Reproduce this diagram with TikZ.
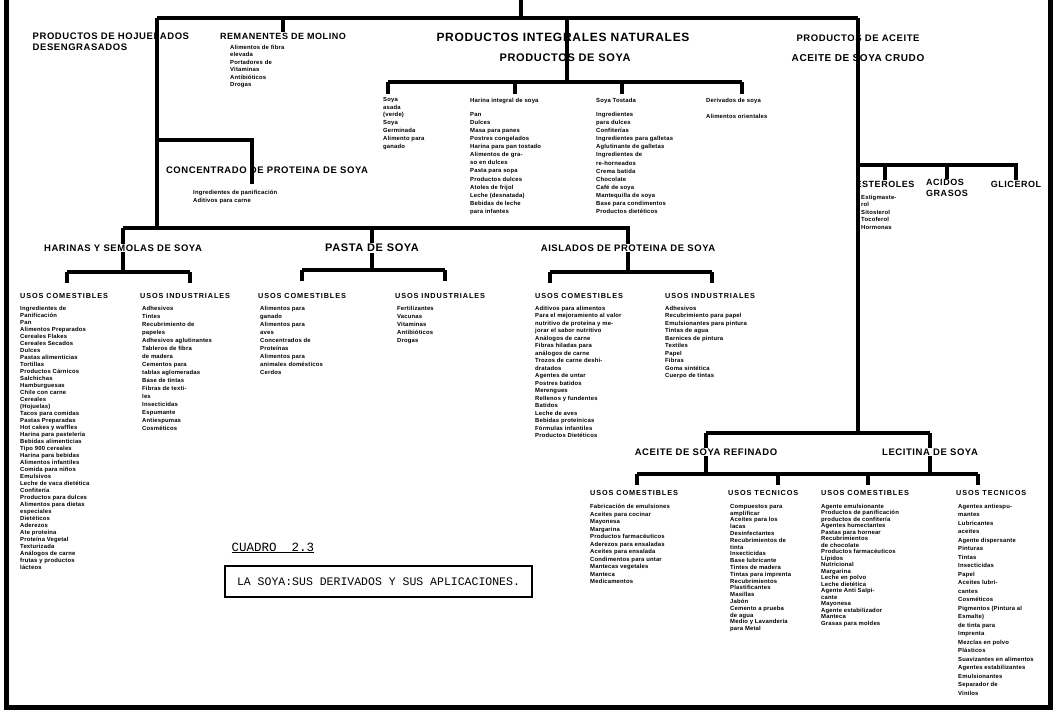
\documentclass[tikz,border=0pt]{standalone}
\usepackage{fontspec}
\setmainfont{Liberation Sans}
\setmonofont{Liberation Mono}
\newfontfamily\rotfont[LetterSpace=6]{Liberation Sans}
\newfontfamily\usosfont[LetterSpace=12]{Liberation Sans}
\newfontfamily\listfont[LetterSpace=3]{Liberation Sans}

\begin{document}
\begin{tikzpicture}[x=1pt, y=-1pt,
  linea/.style={line width=4.4pt},
  titulo/.style={font=\rotfont\fontsize{#1}{11}\selectfont\bfseries, inner sep=0.5pt},
  titulo/.default=9.5,
  usos/.style={font=\usosfont\fontsize{7.3}{8}\selectfont\bfseries, anchor=west, inner sep=0pt},
  lista/.style={font=\listfont\fontsize{5.9}{#1}\selectfont\bfseries, align=left, anchor=north west, inner sep=0pt},
  lista/.default=7.5]
\useasboundingbox (0,0) rectangle (1056,717);

\draw[line width=5pt] (6,0) -- (6,707) -- (1050,707) -- (1050,0);

% nivel superior
\node[titulo, align=left, anchor=north west] (hoj) at (32,32) {PRODUCTOS DE HOJUELADOS\\DESENGRASADOS};
\node[titulo=9] (rem) at (283,36) {REMANENTES DE MOLINO};
\node[lista] (remlista) at (230,45) {Alimentos de fibra\\elevada\\Portadores de\\Vitaminas\\Antibióticos\\Drogas};
\node[titulo=12] (integ) at (563,37) {PRODUCTOS INTEGRALES NATURALES};
\node[titulo=11] (psoya) at (565,58) {PRODUCTOS DE SOYA};
\node[titulo] (paceite) at (858,38) {PRODUCTOS DE ACEITE};
\node[titulo=10] (crudo) at (858,58) {ACEITE DE SOYA CRUDO};

% productos de soya
\node[lista=7.8] (asada) at (383,97) {Soya\\asada\\(verde)\\Soya\\Germinada\\Alimento para\\ganado};
\node[lista] (harint) at (470,98) {Harina integral de soya};
\node[lista=8.1] (harlista) at (470,112) {Pan\\Dulces\\Masa para panes\\Postres congelados\\Harina para pan tostado\\Alimentos de gra-\\so en dulces\\Pasta para sopa\\Productos dulces\\Atoles de frijol\\Leche (desnatada)\\Bebidas de leche\\para infantes};
\node[lista] (tost) at (596,98) {Soya Tostada};
\node[lista=8.1] (tostlista) at (596,112) {Ingredientes\\para dulces\\Confiterías\\Ingredientes para galletas\\Aglutinante de galletas\\Ingredientes de\\re-horneados\\Crema batida\\Chocolate\\Café de soya\\Mantequilla de soya\\Base para condimentos\\Productos dietéticos};
\node[lista] (deriv) at (706,98) {Derivados de soya};
\node[lista] (derlista) at (706,114) {Alimentos orientales};

% concentrado
\node[titulo] (conc) at (267,170) {CONCENTRADO DE PROTEINA DE SOYA};
\node[lista] (conclista) at (193,190) {Ingredientes de panificación\\Aditivos para carne};

% aceite crudo
\node[titulo=9] (est) at (885,184) {ESTEROLES};
\node[titulo=9, align=left] (acid) at (947,188) {ACIDOS\\GRASOS};
\node[titulo=9] (glic) at (1016,184) {GLICEROL};
\node[lista] (estlista) at (861,195) {Estigmaste-\\rol\\Sitosterol\\Tocoferol\\Hormonas};

% harinas, pasta, aislados
\node[titulo] (harinas) at (123,248) {HARINAS Y SEMOLAS DE SOYA};
\node[titulo=11] (pasta) at (372,248) {PASTA DE SOYA};
\node[titulo] (aisl) at (628,248) {AISLADOS DE PROTEINA DE SOYA};
\node[usos] (uc1) at (20,296) {USOS COMESTIBLES};
\node[usos] (ui1) at (140,296) {USOS INDUSTRIALES};
\node[usos] (uc2) at (258,296) {USOS COMESTIBLES};
\node[usos] (ui2) at (395,296) {USOS INDUSTRIALES};
\node[usos] (uc3) at (535,296) {USOS COMESTIBLES};
\node[usos] (ui3) at (665,296) {USOS INDUSTRIALES};
\node[lista=7] (lc1) at (20,306) {Ingredientes de\\Panificación\\Pan\\Alimentos Preparados\\Cereales Flakes\\Cereales Secados\\Dulces\\Pastas alimenticias\\Tortillas\\Productos Cárnicos\\Salchichas\\Hamburguesas\\Chile con carne\\Cereales\\(Hojuelas)\\Tacos para comidas\\Pastas Preparadas\\Hot cakes y waffles\\Harina para pastelería\\Bebidas alimenticias\\Tipo 900 cereales\\Harina para bebidas\\Alimentos infantiles\\Comida para niños\\Emulsivos\\Leche de vaca dietética\\Confitería\\Productos para dulces\\Alimentos para dietas\\especiales\\Dietéticos\\Aderezos\\Ate proteína\\Proteína Vegetal\\Texturizada\\Análogos de carne\\frutas y productos\\lácteos};
\node[lista=8] (li1) at (142,306) {Adhesivos\\Tintes\\Recubrimiento de\\papeles\\Adhesivos aglutinantes\\Tableros de fibra\\de madera\\Cementos para\\tablas aglomeradas\\Base de tintas\\Fibras de texti-\\les\\Insecticidas\\Espumante\\Antiespumas\\Cosméticos};
\node[lista=8] (lc2) at (260,306) {Alimentos para\\ganado\\Alimentos para\\aves\\Concentrados de\\Proteínas\\Alimentos para\\animales domésticos\\Cerdos};
\node[lista=8] (li2) at (397,306) {Fertilizantes\\Vacunas\\Vitaminas\\Antibióticos\\Drogas};
\node[lista] (lc3) at (535,306) {Aditivos para alimentos\\Para el mejoramiento al valor\\nutritivo de proteína y me-\\jorar el sabor nutritivo\\Análogos de carne\\Fibras hiladas para\\análogos de carne\\Trozos de carne deshi-\\dratados\\Agentes de untar\\Postres batidos\\Merengues\\Rellenos y fundentes\\Batidos\\Leche de aves\\Bebidas proteínicas\\Fórmulas infantiles\\Productos Dietéticos};
\node[lista] (li3) at (665,306) {Adhesivos\\Recubrimiento para papel\\Emulsionantes para pintura\\Tintas de agua\\Barnices de pintura\\Textiles\\Papel\\Fibras\\Goma sintética\\Cuerpo de tintas};

% aceite refinado y lecitina
\node[titulo] (refin) at (706,452) {ACEITE DE SOYA REFINADO};
\node[titulo] (lecit) at (930,452) {LECITINA DE SOYA};
\node[usos] (uc4) at (590,493) {USOS COMESTIBLES};
\node[usos] (ut4) at (728,493) {USOS TECNICOS};
\node[usos] (uc5) at (821,493) {USOS COMESTIBLES};
\node[usos] (ut5) at (956,493) {USOS TECNICOS};
\node[lista] (lc4) at (590,504) {Fabricación de emulsiones\\Aceites para cocinar\\Mayonesa\\Margarina\\Productos farmacéuticos\\Aderezos para ensaladas\\Aceites para ensalada\\Condimentos para untar\\Mantecas vegetales\\Manteca\\Medicamentos};
\node[lista=6.8] (lt4) at (730,504) {Compuestos para\\amplificar\\Aceites para los\\lacas\\Desinfectantes\\Recubrimientos de\\tinta\\Insecticidas\\Base lubricante\\Tintes de madera\\Tintas para imprenta\\Recubrimientos\\Plastificantes\\Masillas\\Jabón\\Cemento a prueba\\de agua\\Medio y Lavandería\\para Metal};
\node[lista=6.5] (lc5) at (821,504) {Agente emulsionante\\Productos de panificación\\productos de confitería\\Agentes humectantes\\Pastas para hornear\\Recubrimientos\\de chocolate\\Productos farmacéuticos\\Lípidos\\Nutricional\\Margarina\\Leche en polvo\\Leche dietética\\Agente Anti Salpi-\\cante\\Mayonesa\\Agente estabilizador\\Manteca\\Grasas para moldes};
\node[lista=8.5] (lt5) at (958,504) {Agentes antiespu-\\mantes\\Lubricantes\\aceites\\Agente dispersante\\Pinturas\\Tintas\\Insecticidas\\Papel\\Aceites lubri-\\cantes\\Cosméticos\\Pigmentos (Pintura al\\Esmalte)\\de tinta para\\Imprenta\\Mezclas en polvo\\Plásticos\\Suavizantes en alimentos\\Agentes estabilizantes\\Emulsionantes\\Separador de\\Vinilos};

% cuadro
\node[font=\ttfamily\fontsize{12.5}{14}\selectfont] (cuadro) at (273,548) {\underline{CUADRO\ \ 2.3}};
\node[draw, line width=1.2pt, font=\ttfamily\fontsize{11.5}{14}\selectfont, minimum width=307pt, minimum height=31pt] (rotulo) at (378.5,581.5) {LA SOYA:SUS DERIVADOS Y SUS APLICACIONES.};

% conectores
\coordinate (raiz) at (521,0);
\coordinate (t1) at (157,18);
\coordinate (t2) at (858,18);
\coordinate (s0) at (567,82);
\draw[linea] (raiz) -- (raiz |- t1);
\draw[linea] (t1) -- (t2);
\draw[linea] (rem.north |- t1) -- (rem.north);
\draw[linea] (s0 |- t1) -- (s0);
\coordinate (s1) at (388,82);
\coordinate (s2) at (515,82);
\coordinate (s3) at (622,82);
\coordinate (s4) at (742,82);
\draw[linea] (s1) -- (s4);
\foreach \s in {s1,s2,s3,s4} \draw[linea] (\s) -- ++(0,12);

\coordinate (a1) at (858,433);
\draw[linea] (t2) -- (paceite.center) -- (crudo.center) -- (a1);
\coordinate (e0) at (858,165);
\draw[linea] (e0) -- (glic.north |- e0) -- (glic.north);
\draw[linea] (est.north |- e0) -- (est.north);
\draw[linea] (acid.north |- e0) -- (acid.north);

\coordinate (m1) at (123,228);
\coordinate (c1) at (252,140);
\draw[linea] (t1) -- (t1 |- m1);
\draw[linea] (t1 |- c1) -- (c1) -- (c1 |- conc.south) -- ++(0,10);
\draw[linea] (m1) -- (aisl.north |- m1) -- (aisl.north);
\draw[linea] (m1) -- (harinas.north);
\draw[linea] (pasta.north |- m1) -- (pasta.north);

\coordinate (hb1) at (67,272);
\coordinate (hb2) at (190,272);
\draw[linea] (harinas.south) -- (harinas.south |- hb1);
\draw[linea] (hb1) -- (hb2);
\coordinate (pb1) at (302,270);
\coordinate (pb2) at (445,270);
\draw[linea] (pasta.south) -- (pasta.south |- pb1);
\draw[linea] (pb1) -- (pb2);
\coordinate (ab1) at (550,272);
\coordinate (ab2) at (712,272);
\draw[linea] (aisl.south) -- (aisl.south |- ab1);
\draw[linea] (ab1) -- (ab2);
\foreach \s in {hb1,hb2,pb1,pb2,ab1,ab2} \draw[linea] (\s) -- ++(0,11);

\draw[linea] (refin.north |- a1) -- (lecit.north |- a1);
\draw[linea] (refin.north |- a1) -- (refin.north);
\draw[linea] (lecit.north |- a1) -- (lecit.north);
\coordinate (r1) at (637,474);
\coordinate (r2) at (778,474);
\coordinate (l1) at (868,474);
\coordinate (l2) at (978,474);
\draw[linea] (refin.south) -- (refin.south |- r1);
\draw[linea] (lecit.south) -- (lecit.south |- r1);
\draw[linea] (r1) -- (l2);
\foreach \s in {r1,r2,l1,l2} \draw[linea] (\s) -- ++(0,11);
\end{tikzpicture}
\end{document}
